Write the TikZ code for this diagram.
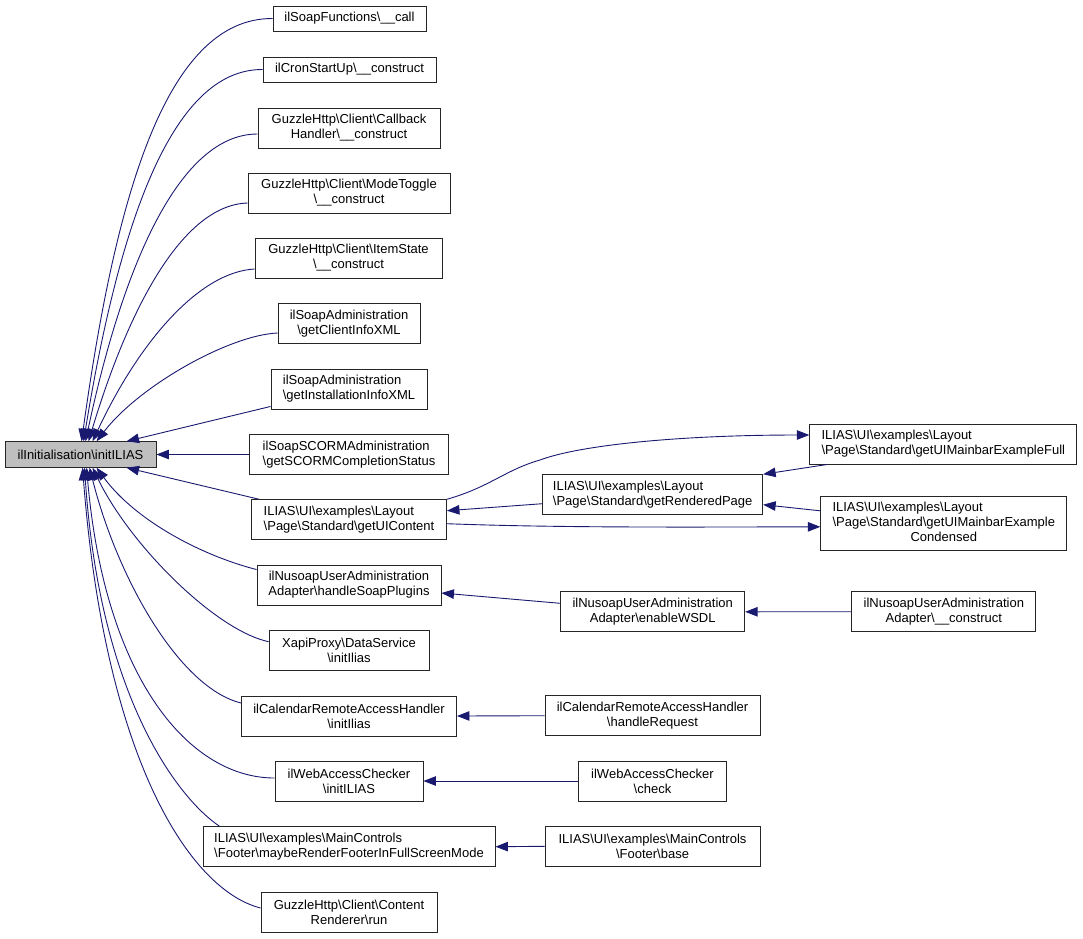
\documentclass[tikz,border=0pt]{standalone}
\usepackage{fontspec}
\setmainfont{Liberation Sans}
\usetikzlibrary{arrows.meta}
\newcommand{\bsl}{\textbackslash}
\definecolor{dblue}{HTML}{191970}
\definecolor{mgray}{HTML}{BFBFBF}
\tikzset{
  box/.style={draw=black!85, line width=0.9pt, fill=white, inner xsep=2pt, inner ysep=0pt, minimum height=40pt, font=\fontsize{13}{15}\selectfont},
  lbox/.style={box, align=left},
  cbox/.style={box, align=center},
  dep/.style={draw=dblue, line width=0.9pt, -{Triangle[length=12.5pt,width=9.5pt]}}
}
\begin{document}
\begin{tikzpicture}[x=1pt,y=-1pt]
\useasboundingbox (0,0) rectangle (1083,938);
% main node
\node[box, fill=mgray, minimum width=151pt, minimum height=25.5pt] (m) at (80.5,454.5) {ilInitialisation\bsl{}initILIAS};
% left column
\node[cbox, minimum width=153pt, minimum height=25pt] (n1) at (349.5,18.5) {ilSoapFunctions\bsl{}\_\_call};
\node[cbox, minimum width=173pt, minimum height=25pt] (n2) at (349.5,69.5) {ilCronStartUp\bsl{}\_\_construct};
\node[cbox, minimum width=182pt] (n3) at (349,128) {GuzzleHttp\bsl{}Client\bsl{}Callback\\Handler\bsl{}\_\_construct};
\node[cbox, minimum width=202pt] (n4) at (349,193) {GuzzleHttp\bsl{}Client\bsl{}ModeToggle\\\bsl{}\_\_construct};
\node[cbox, minimum width=187pt] (n5) at (348.5,258) {GuzzleHttp\bsl{}Client\bsl{}ItemState\\\bsl{}\_\_construct};
\node[cbox, minimum width=142pt] (n6) at (349,323.5) {ilSoapAdministration\\\bsl{}getClientInfoXML};
\node[lbox, minimum width=156pt] (n7) at (349,389) {ilSoapAdministration\\\bsl{}getInstallationInfoXML};
\node[lbox, minimum width=199pt] (n8) at (349,454.5) {ilSoapSCORMAdministration\\\bsl{}getSCORMCompletionStatus};
\node[lbox, minimum width=195pt] (n9) at (349,519.7) {ILIAS\bsl{}UI\bsl{}examples\bsl{}Layout\\\bsl{}Page\bsl{}Standard\bsl{}getUIContent};
\node[cbox, minimum width=184pt] (n10) at (349,585) {ilNusoapUserAdministration\\Adapter\bsl{}handleSoapPlugins};
\node[cbox, minimum width=160pt] (n11) at (349,650.7) {XapiProxy\bsl{}DataService\\\bsl{}initIlias};
\node[cbox, minimum width=215pt] (n12) at (349,716) {ilCalendarRemoteAccessHandler\\\bsl{}initIlias};
\node[cbox, minimum width=148pt] (n13) at (349,781) {ilWebAccessChecker\\\bsl{}initILIAS};
\node[lbox, minimum width=292pt] (n14) at (349,846.7) {ILIAS\bsl{}UI\bsl{}examples\bsl{}MainControls\\\bsl{}Footer\bsl{}maybeRenderFooterInFullScreenMode};
\node[cbox, minimum width=176pt] (n15) at (349,912) {GuzzleHttp\bsl{}Client\bsl{}Content\\Renderer\bsl{}run};
% right columns
\node[lbox, minimum width=220pt] (r1) at (652.7,494.7) {ILIAS\bsl{}UI\bsl{}examples\bsl{}Layout\\\bsl{}Page\bsl{}Standard\bsl{}getRenderedPage};
\node[lbox, minimum width=267pt] (r2) at (943.3,444) {ILIAS\bsl{}UI\bsl{}examples\bsl{}Layout\\\bsl{}Page\bsl{}Standard\bsl{}getUIMainbarExampleFull};
\node[box, minimum width=246pt, minimum height=54pt] (r3) at (943.8,523.8) {\begin{tabular}{@{}l@{}}ILIAS\bsl{}UI\bsl{}examples\bsl{}Layout\\\bsl{}Page\bsl{}Standard\bsl{}getUIMainbarExample\\\multicolumn{1}{@{}c@{}}{Condensed}\end{tabular}};
\node[cbox, minimum width=184pt] (r4) at (652.7,611.8) {ilNusoapUserAdministration\\Adapter\bsl{}enableWSDL};
\node[cbox, minimum width=184pt] (r5) at (943.8,611.7) {ilNusoapUserAdministration\\Adapter\bsl{}\_\_construct};
\node[cbox, minimum width=215pt] (r6) at (652.5,715.7) {ilCalendarRemoteAccessHandler\\\bsl{}handleRequest};
\node[cbox, minimum width=148pt] (r7) at (652.5,781) {ilWebAccessChecker\\\bsl{}check};
\node[cbox, minimum width=215pt] (r8) at (652.5,846.3) {ILIAS\bsl{}UI\bsl{}examples\bsl{}MainControls\\\bsl{}Footer\bsl{}base};
% edges into main (top)
\draw[dep] (n1.west) .. controls (165,18) and (115,200) .. ([xshift=77pt]m.north west);
\draw[dep] (n2.west) .. controls (170,69) and (118,230) .. ([xshift=79pt]m.north west);
\draw[dep] ([yshift=-6pt]n3.west) .. controls (178,134) and (122,270) .. ([xshift=81pt]m.north west);
\draw[dep] ([yshift=-10pt]n4.west) .. controls (182,205) and (128,310) .. ([xshift=84pt]m.north west);
\draw[dep] ([yshift=-11pt]n5.west) .. controls (200,272) and (140,340) .. ([xshift=88pt]m.north west);
\draw[dep] ([yshift=-9.5pt]n6.west) .. controls (230,335) and (140,385) .. ([xshift=92pt]m.north west);
\draw[dep] ([yshift=3pt]n7.south west) -- ([xshift=122pt]m.north west);
\draw[dep] (n8.west) -- (m.east);
% edges into main (bottom)
\draw[dep] ([xshift=8pt]n9.north west) -- ([xshift=122pt]m.south west);
\draw[dep] ([yshift=-5pt]n10.north west) .. controls (200,555) and (135,520) .. ([xshift=92pt]m.south west);
\draw[dep] ([yshift=9pt]n11.west) .. controls (215,630) and (130,545) .. ([xshift=88pt]m.south west);
\draw[dep] ([yshift=13pt]n12.west) .. controls (180,688) and (118,580) .. ([xshift=85pt]m.south west);
\draw[dep] ([yshift=3pt]n13.west) .. controls (190,778) and (105,680) .. ([xshift=82pt]m.south west);
\draw[dep] ([xshift=17pt]n14.north west) .. controls (180,800) and (100,700) .. ([xshift=80pt]m.south west);
\draw[dep] ([yshift=4pt]n15.west) .. controls (190,890) and (105,760) .. ([xshift=78pt]m.south west);
% right side edges
\draw[dep] ([yshift=-9pt]r1.west) -- ([yshift=9pt]n9.east);
\draw[dep] (n9.north east) .. controls (490,487) and (505,470) .. (540,460) .. controls (580,445) and (680,435) .. ([yshift=9pt]r2.west);
\draw[dep] ([yshift=-4pt]n9.east) .. controls (560,528) and (700,527) .. ([yshift=-3pt]r3.west);
\draw[dep] ([xshift=18pt]r2.south west) -- (r1.north east);
\draw[dep] ([yshift=13pt]r3.west) -- ([yshift=-10pt]r1.east);
\draw[dep] ([yshift=8.5pt]r4.west) -- ([yshift=-8pt]n10.east);
\draw[dep] (r5.west) -- (r4.east);
\draw[dep] (r6.west) -- (n12.east);
\draw[dep] (r7.west) -- (n13.east);
\draw[dep] (r8.west) -- (n14.east);
\end{tikzpicture}
\end{document}
